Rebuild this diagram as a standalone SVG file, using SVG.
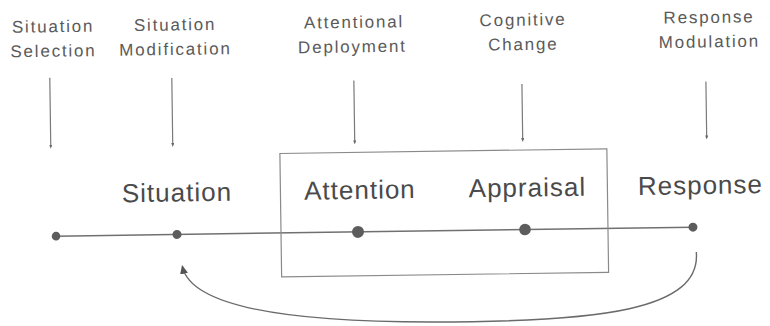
<svg xmlns="http://www.w3.org/2000/svg" width="770" height="326" viewBox="0 0 770 326">
  <style>
    .top { font-family: "Liberation Sans", Arial, sans-serif; font-size: 17px; fill: #5a5a5a; letter-spacing: 1.8px; text-anchor: middle; }
    .mid { font-family: "Liberation Sans", Arial, sans-serif; font-size: 26px; fill: #4a4a4a; letter-spacing: 1px; text-anchor: middle; }
    .dot { fill: #5c5c5c; }
    .vline { stroke: #7a7a7a; stroke-width: 1.2; fill: none; marker-end: url(#tiny); }
    .axis { stroke: #707070; stroke-width: 1.5; fill: none; }
    .box { stroke: #8a8a8a; stroke-width: 1.2; fill: none; }
    .fb { stroke: #6a6a6a; stroke-width: 1.4; fill: none; marker-end: url(#head); }
  </style>
  <defs>
    <marker id="tiny" markerWidth="4" markerHeight="4" refX="2" refY="2" orient="auto" markerUnits="userSpaceOnUse">
      <path d="M0,0.5 L4,2 L0,3.5 Z" fill="#666"/>
    </marker>
    <marker id="head" markerWidth="9" markerHeight="8" refX="7" refY="4" orient="auto" markerUnits="userSpaceOnUse">
      <path d="M0,0 L9,4 L0,8 Z" fill="#555"/>
    </marker>
  </defs>
  <rect width="770" height="326" fill="#ffffff"/>
  <g transform="rotate(-0.81 385 231.5)">
    <g id="connectors">
      <line class="axis" x1="56" y1="231.5" x2="693" y2="231.5"/>
      <line class="vline" x1="52" y1="73" x2="52" y2="142"/>
      <line class="vline" x1="174" y1="75" x2="174" y2="142"/>
      <line class="vline" x1="356" y1="80" x2="356" y2="142"/>
      <line class="vline" x1="524" y1="86" x2="524" y2="142"/>
      <line class="vline" x1="708" y1="86" x2="708" y2="142"/>
      <path class="fb" d="M696,256.4 C700,314.5 600,325 430,322.6 C280,320.5 190,302.2 182,264"/>
    </g>
    <g id="box-attention-appraisal">
      <rect class="box" x="281" y="152" width="327" height="123.5"/>
    </g>
    <g id="situation-selection">
      <text class="top" x="56" y="27.5">Situation</text>
      <text class="top" x="56" y="52">Selection</text>
      <circle class="dot" cx="56" cy="231.5" r="4.3"/>
    </g>
    <g id="situation-modification">
      <text class="top" x="178" y="27.5">Situation</text>
      <text class="top" x="178" y="52">Modification</text>
    </g>
    <g id="attentional-deployment">
      <text class="top" x="357" y="27.5">Attentional</text>
      <text class="top" x="355" y="52">Deployment</text>
    </g>
    <g id="cognitive-change">
      <text class="top" x="526" y="27.5">Cognitive</text>
      <text class="top" x="526" y="52">Change</text>
    </g>
    <g id="response-modulation">
      <text class="top" x="712" y="27.5">Response</text>
      <text class="top" x="712" y="52">Modulation</text>
    </g>
    <g id="situation">
      <text class="mid" x="177.5" y="198.5">Situation</text>
      <circle class="dot" cx="177" cy="231.5" r="4.5"/>
    </g>
    <g id="attention">
      <text class="mid" x="360.5" y="198.5">Attention</text>
      <circle class="dot" cx="358" cy="231.5" r="6"/>
    </g>
    <g id="appraisal">
      <text class="mid" x="528" y="198.5">Appraisal</text>
      <circle class="dot" cx="525" cy="231.5" r="5.8"/>
    </g>
    <g id="response">
      <text class="mid" x="701" y="198.5">Response</text>
      <circle class="dot" cx="693" cy="231.5" r="4.5"/>
    </g>
  </g>
</svg>
